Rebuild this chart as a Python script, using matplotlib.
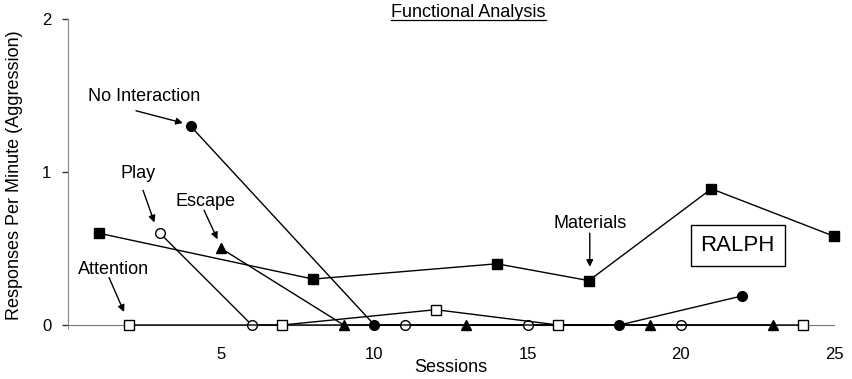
import matplotlib.pyplot as plt
from matplotlib.lines import Line2D

plt.rcParams['font.family'] = ['Liberation Sans', 'DejaVu Sans']

# Sitzungen und Werte je Bedingung
materials_x = [1, 8, 14, 17, 21, 25]
materials_y = [0.6, 0.3, 0.4, 0.29, 0.89, 0.58]
nointer_x = [4, 10, 18, 22]
nointer_y = [1.3, 0.0, 0.0, 0.19]
play_x = [3, 6, 11, 15, 20]
play_y = [0.6, 0.0, 0.0, 0.0, 0.0]
escape_x = [5, 9, 13, 19, 23]
escape_y = [0.5, 0.0, 0.0, 0.0, 0.0]
attention_x = [2, 7, 12, 16, 24]
attention_y = [0.0, 0.0, 0.1, 0.0, 0.0]

xticks = [5, 10, 15, 20, 25]
yticks = [0, 1, 2]

fig = plt.figure(figsize=(8.53, 3.79), dpi=100)
ax = fig.add_axes([0.0797, 0.1425, 0.898, 0.8075])

line_kw = dict(color='black', lw=1.0, clip_on=False, zorder=3)
ax.plot(materials_x, materials_y, marker='s', ms=7, mfc='black', mec='black', **line_kw)
ax.plot(nointer_x, nointer_y, marker='o', ms=7, mfc='black', mec='black', **line_kw)
ax.plot(play_x, play_y, marker='o', ms=7, mfc='white', mec='black', mew=1.0, **line_kw)
ax.plot(escape_x, escape_y, marker='^', ms=7, mfc='black', mec='black', **line_kw)
ax.plot(attention_x, attention_y, marker='s', ms=7, mfc='white', mec='black', mew=1.0, **line_kw)

ax.set_xlim(0, 25)
ax.set_ylim(0, 2)
ax.spines['top'].set_visible(False)
ax.spines['right'].set_visible(False)
ax.spines['left'].set_color('#888888')
ax.spines['bottom'].set_color('#777777')
ax.spines['left'].set_linewidth(0.8)
ax.spines['bottom'].set_linewidth(0.8)

ax.set_xticks(xticks)
ax.set_xticks([0, 25], minor=True)
ax.tick_params(axis='x', which='major', length=0, pad=16, labelsize=12)
ax.tick_params(axis='x', which='minor', length=3, color='#777777', direction='out')
ax.set_yticks(yticks)
ax.tick_params(axis='y', length=4, width=1, color='#333333', pad=8, labelsize=12)

ax.set_xlabel('Sessions', fontsize=13, labelpad=-2)
ax.set_ylabel('Responses Per Minute (Aggression)', fontsize=13)
ax.yaxis.set_label_coords(-0.059, 0.49)

# Beschriftungen mit Pfeilen
arrow = dict(arrowstyle='-|>', color='black', lw=1.0, mutation_scale=10, shrinkA=0, shrinkB=0)
labels = [
    ('No Interaction', (2.5, 1.49), (2.22, 1.40), (3.75, 1.32)),
    ('Play', (2.3, 0.99), (2.45, 0.88), (2.82, 0.67)),
    ('Escape', (4.5, 0.81), (4.44, 0.75), (4.88, 0.56)),
    ('Attention', (1.5, 0.36), (1.34, 0.31), (1.83, 0.085)),
    ('Materials', (17.03, 0.665), (17.03, 0.60), (17.03, 0.38)),
]
for txt, pos, start, end in labels:
    ax.text(pos[0], pos[1], txt, fontsize=13, ha='center', va='center')
    ax.annotate('', xy=end, xytext=start, arrowprops=arrow)

ax.text(21.86, 0.52, 'RALPH', fontsize=16, ha='center', va='center',
        bbox=dict(boxstyle='square,pad=0.45', fc='white', ec='black', lw=1.0))

title = fig.text(0.549, 0.968, 'Functional Analysis', fontsize=13, ha='center', va='center')
fig.canvas.draw()
bb = title.get_window_extent()
uy = (bb.y0 + 1) / fig.bbox.height
fig.add_artist(Line2D([bb.x0 / fig.bbox.width, bb.x1 / fig.bbox.width], [uy, uy],
                      color='black', lw=0.9, transform=fig.transFigure))

fig.savefig('out.png', dpi=100)
